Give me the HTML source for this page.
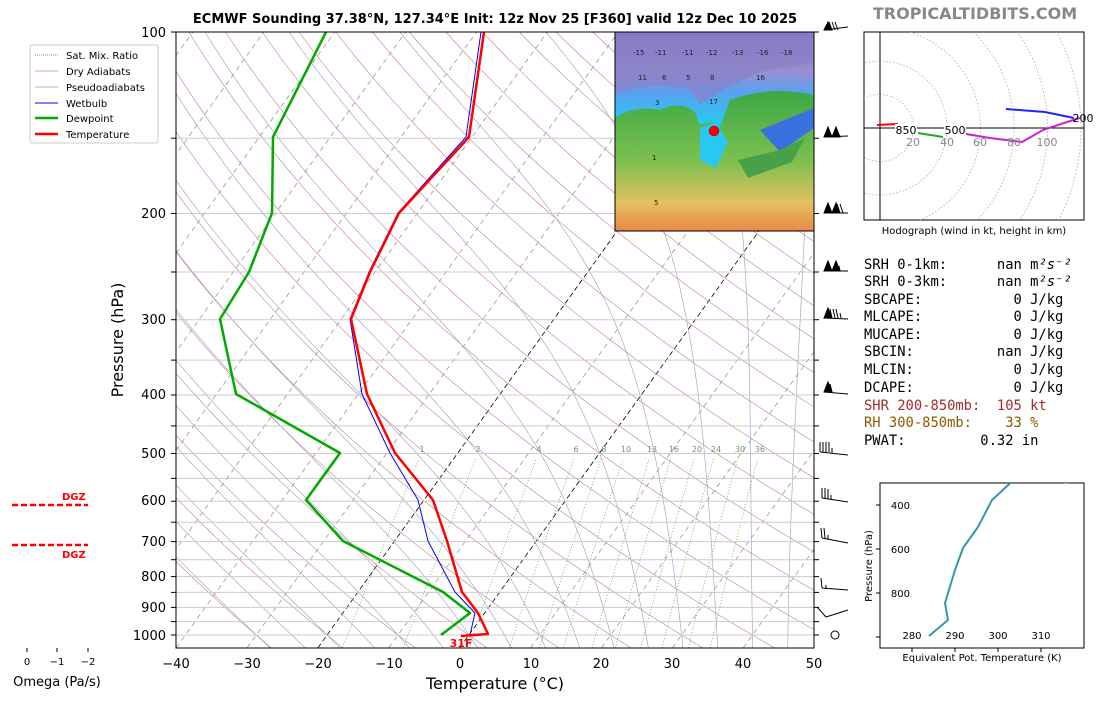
<!DOCTYPE html>
<html><head><meta charset="utf-8"><style>
body{margin:0;background:#fff;width:1100px;height:700px;overflow:hidden;font-family:"Liberation Sans","DejaVu Sans",sans-serif}
svg text{font-family:"DejaVu Sans","Liberation Sans",sans-serif}
svg text.mono{font-family:"DejaVu Sans Mono","Liberation Mono",monospace;font-size:13.8px;white-space:pre}
</style></head><body>
<svg id="s" width="1100" height="700" viewBox="0 0 1100 700" xmlns="http://www.w3.org/2000/svg">
<defs>
<clipPath id="c"><rect x="176" y="32" width="638" height="616"/></clipPath>
<clipPath id="hc"><rect x="864" y="32" width="220" height="188"/></clipPath>
<clipPath id="tc"><rect x="880" y="483" width="204" height="165"/></clipPath>
<linearGradient id="mg" x1="0" y1="0" x2="0" y2="1">
<stop offset="0" stop-color="#7a6cc0"/><stop offset="0.2" stop-color="#9a90d0"/><stop offset="0.3" stop-color="#5aa0f0"/><stop offset="0.45" stop-color="#28c8f0"/><stop offset="0.55" stop-color="#40b050"/><stop offset="0.75" stop-color="#a0d060"/><stop offset="0.88" stop-color="#e8c060"/><stop offset="1" stop-color="#e88040"/>
</linearGradient>
<linearGradient id="lg" x1="0" y1="0" x2="0" y2="1">
<stop offset="0" stop-color="#3aa845"/><stop offset="0.5" stop-color="#7cc050"/><stop offset="0.8" stop-color="#e4c060"/><stop offset="1" stop-color="#e88848"/>
</linearGradient>
</defs>
<g id="bg" clip-path="url(#c)"></g>
<g id="hlines" clip-path="url(#c)"></g>
<g font-size="8" fill="#6a9a6a" text-anchor="middle">
<text x="422" y="452">1</text><text x="478" y="452">2</text><text x="539" y="452">4</text><text x="576" y="452">6</text><text x="604" y="452">8</text><text x="626" y="452">10</text><text x="652" y="452">13</text><text x="674" y="452">16</text><text x="697" y="452">20</text><text x="716" y="452">24</text><text x="740" y="452">30</text><text x="760" y="452">36</text>
</g>
<g clip-path="url(#c)" fill="none" stroke-linejoin="round">
<polyline stroke="#0a0" stroke-width="2.5" points="326,32 273,137 272,213 249,272 220,319 236,394 340,453 306,500 343,541 443,592 470,613 441,635"/>
<polyline stroke="#00f" stroke-width="1" points="481,32 466,137 398,213 369,272 350,319 362,394 390,453 418,500 428,541 455,592 475,613 470,635"/>
<polyline stroke="#f00" stroke-width="2.5" points="484,32 469,137 399,213 370,272 351,319 367,394 395,453 433,500 447,541 462,592 478,613 488,634 461,636"/>
</g>
<text x="461" y="647" font-size="11" font-weight="bold" fill="#f00" text-anchor="middle">31F</text>
<g>
<rect x="615" y="32" width="199" height="199" fill="url(#mg)"/>
<path d="M615,95 Q650,80 690,90 L700,105 Q720,90 760,72 L814,62 L814,32 L615,32Z" fill="#8a80c8" opacity="0.7"/>
<path d="M615,118 Q635,105 660,110 Q680,100 695,112 L700,125 L712,122 L720,128 L730,100 Q770,85 814,95 L814,231 L615,231Z" fill="url(#lg)"/>
<path d="M700,128 L716,122 L728,142 L716,168 L700,160Z" fill="#28c8f0"/>
<path d="M760,130 L814,108 L814,128 L780,152Z" fill="#3a70e0"/>
<path d="M738,160 L780,150 L805,138 L792,162 L748,178Z" fill="#48a048"/>
<g font-size="7" fill="#222"><text x="633" y="55">-15</text><text x="655" y="55">-11</text><text x="682" y="55">-11</text><text x="706" y="55">-12</text><text x="732" y="55">-13</text><text x="757" y="55">-16</text><text x="781" y="55">-18</text><text x="638" y="80">11</text><text x="662" y="80">6</text><text x="686" y="80">5</text><text x="710" y="80">8</text><text x="756" y="80">16</text><text x="709" y="104">17</text><text x="655" y="105">3</text><text x="652" y="160">1</text><text x="654" y="205">5</text></g>
<circle cx="714" cy="131" r="5" fill="#f00" stroke="#800" stroke-width="0.5"/>
<rect x="615" y="32" width="199" height="199" fill="none" stroke="#000" stroke-width="1"/>
</g>
<rect x="176" y="32" width="638" height="616" fill="none" stroke="#000" stroke-width="1"/>
<g stroke="#000" stroke-width="1" id="ticks"></g>
<g font-size="13" text-anchor="end">
<text x="166" y="37">100</text><text x="166" y="218">200</text><text x="166" y="324">300</text><text x="166" y="399">400</text><text x="166" y="458">500</text><text x="166" y="505">600</text><text x="166" y="546">700</text><text x="166" y="581">800</text><text x="166" y="612">900</text><text x="166" y="640">1000</text>
</g>
<g font-size="13" text-anchor="middle">
<text x="176" y="668">−40</text><text x="247" y="668">−30</text><text x="318" y="668">−20</text><text x="389" y="668">−10</text><text x="460" y="668">0</text><text x="531" y="668">10</text><text x="601" y="668">20</text><text x="672" y="668">30</text><text x="743" y="668">40</text><text x="814" y="668">50</text>
</g>
<text x="495" y="689" font-size="16" text-anchor="middle">Temperature (°C)</text>
<text transform="translate(123,340) rotate(-90)" font-size="16" text-anchor="middle">Pressure (hPa)</text>
<text x="495" y="23" font-size="13" font-weight="bold" text-anchor="middle">ECMWF Sounding 37.38°N, 127.34°E Init: 12z Nov 25 [F360] valid 12z Dec 10 2025</text>
<text x="975" y="19" font-size="16" font-weight="bold" fill="#888" text-anchor="middle">TROPICALTIDBITS.COM</text>
<g>
<rect x="30" y="45" width="128" height="98" fill="#fff" stroke="#ccc" rx="2"/>
<g font-size="10"><line x1="35" y1="55" x2="58" y2="55" stroke="#888" stroke-dasharray="1,1"/><text x="66" y="59">Sat. Mix. Ratio</text>
<line x1="35" y1="71" x2="58" y2="71" stroke="#c88" stroke-width="0.7"/><text x="66" y="75">Dry Adiabats</text>
<line x1="35" y1="87" x2="58" y2="87" stroke="#99c" stroke-width="0.7"/><text x="66" y="91">Pseudoadiabats</text>
<line x1="35" y1="103" x2="58" y2="103" stroke="#00f" stroke-width="1"/><text x="66" y="107">Wetbulb</text>
<line x1="35" y1="118" x2="58" y2="118" stroke="#0a0" stroke-width="2.5"/><text x="66" y="122">Dewpoint</text>
<line x1="35" y1="134" x2="58" y2="134" stroke="#f00" stroke-width="2.5"/><text x="66" y="138">Temperature</text></g>
</g>
<g stroke="#000" stroke-width="1" fill="#000">
<line x1="824" y1="30" x2="848" y2="27"/><polygon points="824,30 828,22 832,30"/><line x1="832" y1="30" x2="829" y2="22"/><line x1="835" y1="30" x2="832" y2="22"/><line x1="838" y1="30" x2="835" y2="22"/>
<line x1="824" y1="137" x2="848" y2="136"/><polygon points="824,137 828,127 832,137"/><polygon points="832,137 836,127 840,137"/>
<line x1="824" y1="213" x2="848" y2="213"/><polygon points="824,213 828,203 832,213"/><polygon points="832,213 836,203 840,213"/><line x1="840" y1="213" x2="837" y2="204"/><line x1="843" y1="213" x2="840" y2="204"/>
<line x1="824" y1="271" x2="848" y2="271"/><polygon points="824,271 828,261 832,271"/><polygon points="832,271 836,261 840,271"/><line x1="840" y1="271" x2="839" y2="266"/>
<line x1="824" y1="318" x2="848" y2="319"/><polygon points="824,318 828,308 832,318"/><line x1="832" y1="318" x2="830" y2="309"/><line x1="835" y1="318" x2="833" y2="309"/><line x1="838" y1="318" x2="836" y2="309"/><line x1="841" y1="318" x2="840" y2="313"/>
<line x1="824" y1="392" x2="848" y2="394"/><polygon points="824,392 828,382 832,392"/><line x1="832" y1="392" x2="830" y2="384"/>
<line x1="820" y1="452" x2="848" y2="455"/><line x1="820" y1="452" x2="820" y2="442"/><line x1="823" y1="452" x2="823" y2="442"/><line x1="826" y1="452" x2="826" y2="442"/><line x1="829" y1="452" x2="829" y2="442"/><line x1="832" y1="453" x2="832" y2="448"/>
<line x1="822" y1="498" x2="848" y2="502"/><line x1="822" y1="498" x2="822" y2="488"/><line x1="825" y1="498" x2="825" y2="488"/><line x1="828" y1="499" x2="828" y2="489"/><line x1="831" y1="499" x2="831" y2="495"/>
<line x1="822" y1="538" x2="848" y2="543"/><line x1="822" y1="538" x2="821" y2="528"/><line x1="825" y1="538" x2="824" y2="528"/><line x1="828" y1="539" x2="828" y2="535"/>
<line x1="822" y1="588" x2="848" y2="590"/><line x1="822" y1="588" x2="821" y2="578"/><line x1="826" y1="589" x2="826" y2="585"/>
<line x1="826" y1="617" x2="848" y2="610"/><line x1="826" y1="617" x2="817" y2="607"/>
</g>
<circle cx="835" cy="635" r="4" fill="none" stroke="#000"/>
<rect x="864" y="32" width="220" height="188" fill="none" stroke="#000"/>
<g clip-path="url(#hc)" fill="none" stroke="#aaa" stroke-dasharray="1.5,2" stroke-width="0.8">
<circle cx="880" cy="128" r="33.5"/><circle cx="880" cy="128" r="67"/><circle cx="880" cy="128" r="100.5"/><circle cx="880" cy="128" r="134"/><circle cx="880" cy="128" r="167.5"/><circle cx="880" cy="128" r="201"/>
</g>
<line x1="864" y1="128" x2="1084" y2="128" stroke="#000"/><line x1="880" y1="32" x2="880" y2="220" stroke="#000"/>
<g fill="none" stroke-width="2"><polyline stroke="#f00" points="877,125 898,124"/><polyline stroke="#2a2" points="918,133 943,137"/><polyline stroke="#c2c" points="966,134 990,138 1022,142 1043,130 1070,121 1080,118"/><polyline stroke="#22f" points="1006,109 1045,112 1074,118"/></g>
<g font-size="11" fill="#888" text-anchor="middle"><text x="913" y="146">20</text><text x="947" y="146">40</text><text x="980" y="146">60</text><text x="1014" y="146">80</text><text x="1047" y="146">100</text></g>
<g font-size="11" text-anchor="middle"><rect x="895" y="124" width="22" height="11" fill="#fff"/><text x="906" y="134">850</text><rect x="944" y="124" width="22" height="11" fill="#fff"/><text x="955" y="134">500</text><text x="1083" y="122">200</text></g>
<text x="974" y="234" font-size="10" text-anchor="middle">Hodograph (wind in kt, height in km)</text>
<text class="mono" x="864" y="269">SRH 0-1km:      nan m<tspan font-style="italic">²s⁻²</tspan></text>
<text class="mono" x="864" y="286">SRH 0-3km:      nan m<tspan font-style="italic">²s⁻²</tspan></text>
<text class="mono" x="864" y="304">SBCAPE:           0 J/kg</text>
<text class="mono" x="864" y="321">MLCAPE:           0 J/kg</text>
<text class="mono" x="864" y="339">MUCAPE:           0 J/kg</text>
<text class="mono" x="864" y="356">SBCIN:          nan J/kg</text>
<text class="mono" x="864" y="374">MLCIN:            0 J/kg</text>
<text class="mono" x="864" y="392">DCAPE:            0 J/kg</text>
<text class="mono" x="864" y="410" fill="#a52a2a">SHR 200-850mb:  105 kt</text>
<text class="mono" x="864" y="427" fill="#8b5a00">RH 300-850mb:    33 %</text>
<text class="mono" x="864" y="445">PWAT:         0.32 in</text>
<rect x="880" y="483" width="204" height="165" fill="none" stroke="#000"/>
<polyline fill="none" stroke="#3399aa" stroke-width="2" points="929,636 948,620 945,603 955,570 963,548 978,527 992,500 1018,476 1070,483" clip-path="url(#tc)"/>
<g stroke="#000"><line x1="876" y1="505" x2="880" y2="505"/><line x1="876" y1="549" x2="880" y2="549"/><line x1="876" y1="593" x2="880" y2="593"/><line x1="876" y1="637" x2="880" y2="637"/><line x1="912" y1="648" x2="912" y2="652"/><line x1="955" y1="648" x2="955" y2="652"/><line x1="998" y1="648" x2="998" y2="652"/><line x1="1041" y1="648" x2="1041" y2="652"/></g>
<g font-size="10" text-anchor="end"><text x="910" y="509">400</text><text x="910" y="553">600</text><text x="910" y="597">800</text></g>
<g font-size="10" text-anchor="middle"><text x="912" y="639">280</text><text x="955" y="639">290</text><text x="998" y="639">300</text><text x="1041" y="639">310</text></g>
<text x="982" y="661" font-size="10" text-anchor="middle">Equivalent Pot. Temperature (K)</text>
<text transform="translate(872,566) rotate(-90)" font-size="10" text-anchor="middle">Pressure (hPa)</text>
<g stroke="#f00" stroke-width="2.5" stroke-dasharray="6,3"><line x1="12" y1="505" x2="88" y2="505"/><line x1="12" y1="545" x2="88" y2="545"/></g>
<g font-size="10" font-weight="bold" fill="#f00"><text x="62" y="500">DGZ</text><text x="62" y="558">DGZ</text></g>
<g stroke="#000"><line x1="27" y1="648" x2="27" y2="652"/><line x1="57" y1="648" x2="57" y2="652"/><line x1="88" y1="648" x2="88" y2="652"/></g>
<g font-size="10" text-anchor="middle"><text x="27" y="665">0</text><text x="57" y="665">−1</text><text x="88" y="665">−2</text></g>
<text x="57" y="686" font-size="13" text-anchor="middle">Omega (Pa/s)</text>
</svg>
<script>
(function(){
var NS="http://www.w3.org/2000/svg";
function Y(p){return 32+603*Math.log10(p/100);}
function X(T,p){return 176+(T+40)*7.089+0.718*(648-Y(p));}
var bg=document.getElementById('bg'),hl=document.getElementById('hlines'),tk=document.getElementById('ticks');
function pl(g,pts,st,w,da){var e=document.createElementNS(NS,'polyline');e.setAttribute('points',pts.map(function(a){return a[0].toFixed(1)+','+a[1].toFixed(1)}).join(' '));e.setAttribute('fill','none');e.setAttribute('stroke',st);e.setAttribute('stroke-width',w);if(da)e.setAttribute('stroke-dasharray',da);g.appendChild(e);}
var ps=[];for(var p=1050;p>=100;p-=10)ps.push(p);
[150,200,250,300,350,400,450,500,550,600,650,700,750,800,850,900,950,1000].forEach(function(p){pl(hl,[[176,Y(p)],[814,Y(p)]],'#ccc',1);});
[100,150,200,250,300,350,400,450,500,550,600,650,700,750,800,850,900,950,1000].forEach(function(p){pl(tk,[[171,Y(p)],[176,Y(p)]],'#000',1);pl(tk,[[814,Y(p)],[819,Y(p)]],'#000',1);});
for(var T=-130;T<=50;T+=10){if(T==0||T==-20)continue;pl(bg,[[X(T,1050),Y(1050)],[X(T,100),Y(100)]],'#999',0.8,'5,4');}
[0,-20].forEach(function(T){pl(bg,[[X(T,1050),Y(1050)],[X(T,100),Y(100)]],'#000',0.8,'5,3');});
for(var th=-30;th<=200;th+=10){var pts=ps.map(function(p){return [X((th+273.15)*Math.pow(p/1000,0.2857)-273.15,p),Y(p)]});pl(bg,pts,'#c98080',0.6);}
function es(T){return 6.112*Math.exp(17.67*T/(T+243.5));}
function step(T,p,dp){var Tk=T+273.15;var rs=0.622*es(T)/(p-es(T));var g=(287*Tk+2.5e6*rs)/(1004+2.5e6*2.5e6*rs*0.622/(287*Tk*Tk));return T+g/p*dp;}
for(var t0=-30;t0<=45;t0+=5){var T=t0,p=1000,up=[];var Td=t0,pd=1000;
 while(pd<1050){Td=step(Td,pd,5);pd+=5;}
 while(p>=100){up.push([X(T,p),Y(p)]);T=step(T,p,-5);p-=5;}
 pl(bg,[[X(Td,1050),Y(1050)]].concat(up),'#9999cc',0.6);}
[1,2,4,6,8,10,13,16,20,24,30,36].forEach(function(w){var pts=[];for(var p=1050;p>=510;p-=20){var e=w*p/(622+w);var l=Math.log(e/6.112);var td=243.5*l/(17.67-l);pts.push([X(td,p),Y(p)]);}pl(bg,pts,'#4a9a4a',0.7,'1,2');});
})();
</script>
</body></html>
